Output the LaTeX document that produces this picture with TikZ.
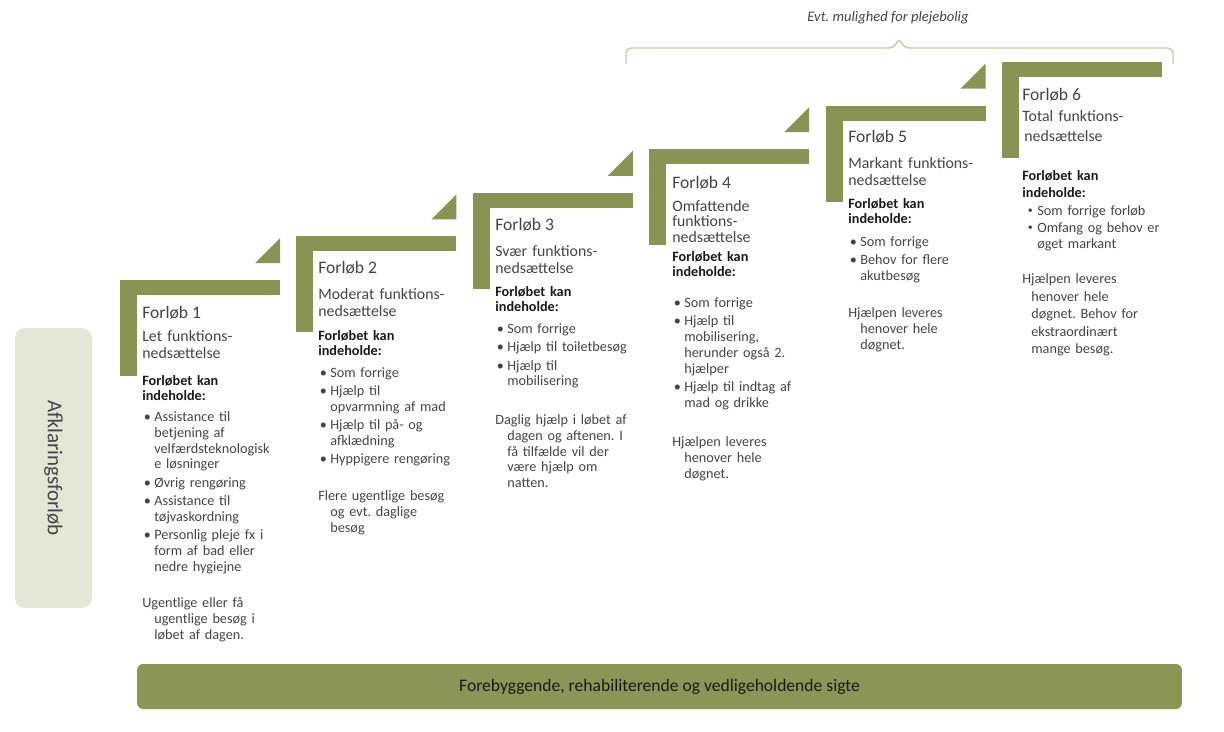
\documentclass[tikz,border=0pt]{standalone}
\usepackage{fontspec}
\setmainfont{Carlito}
\usetikzlibrary{positioning}
\frenchspacing

\definecolor{stepgreen}{RGB}{137,148,84}
\definecolor{barfill}{RGB}{139,150,86}
\definecolor{boxfill}{RGB}{228,231,214}
\definecolor{bracegrey}{RGB}{196,201,168}
\definecolor{txtgrey}{RGB}{68,68,68}
\definecolor{txtdark}{RGB}{25,25,25}

\newcommand{\blt}{\makebox[2.4mm][l]{\hspace{0.3mm}\textbullet}}
\newcommand{\sblt}{\makebox[3mm][l]{\hspace{1.1mm}\raisebox{.25ex}{\scalebox{.7}{\textbullet}}}}
\newcommand{\stepcont}{\hspace*{2.4mm}}
\newcommand{\notecont}{\hspace*{2.4mm}}

\tikzset{
  stepbar/.style={fill=stepgreen},
  steptitle/.style={anchor=base west, inner sep=0pt, text=txtgrey, font=\fontsize{10}{12}\selectfont},
  stepsub/.style={anchor=base west, inner sep=0pt, text=txtgrey, text width=3.5cm, align=left, font=\fontsize{9}{10}\selectfont},
  stephead/.style={anchor=base west, inner sep=0pt, text=txtdark, text width=3.5cm, align=left, font=\fontsize{8.1}{8.3}\selectfont\bfseries},
  stepbody/.style={anchor=base west, inner sep=0pt, text=txtgrey, text width=3.5cm, align=left, font=\fontsize{8.1}{9}\selectfont},
  leftbox/.style={fill=boxfill, rounded corners=2mm, rotate=-90, minimum width=5.6cm, minimum height=1.54cm, inner sep=0pt, text=txtgrey, font=\fontsize{12}{14}\selectfont},
  sigtebar/.style={fill=barfill, rounded corners=1.2mm, minimum width=20.9cm, minimum height=0.9cm, text=txtdark, font=\fontsize{10}{12}\selectfont},
  bracelabel/.style={inner sep=0pt, text=txtgrey, font=\fontsize{8.3}{10}\selectfont\itshape}
}

\begin{document}
\begin{tikzpicture}[x=0.02cm,y=-0.02cm]
  \useasboundingbox (0,0) rectangle (1224,731);

  % staircase
  \foreach \i in {1,...,6} {
    \pgfmathsetmacro{\X}{120+176.4*(\i-1)}
    \pgfmathsetmacro{\Y}{280-43.6*(\i-1)}
    \fill[stepbar] (\X,\Y) rectangle ++(160,15); %Draw tread
    \fill[stepbar] (\X,\Y) rectangle ++(17,96);  %Draw riser
    \ifnum\i<6
      \fill[stepbar] (\X+160,\Y-17) -- ++(-25,0) -- ++(25,-25) -- cycle; %Draw corner
    \fi
  }

  \node[leftbox] (afk) at (53.5,468) {Afklaringsforløb}; %Left box
  \node[sigtebar] (sigte) at (659.5,686.5) {Forebyggende, rehabiliterende og vedligeholdende sigte}; %Bottom bar

  % brace over the last steps
  \coordinate (bl) at (626,64);
  \coordinate (br) at (1173,64);
  \coordinate (bt) at (899,38);
  \draw[bracegrey, line width=0.8pt, rounded corners=1mm] (bl) |- (894,48) -- (bt) -- (904,48) -| (br);
  \node[bracelabel] (pleje) at (888,18) {Evt. mulighed for plejebolig};

  % Forløb 1
  \node[steptitle] (t1) at (142,318) {Forløb 1};
  \node[stepsub] (s1) at (142,341) {Let funktions-\\nedsættelse};
  \node[stephead] (h1) at (142,385.5) {Forløbet kan\\indeholde:};
  \node[stepbody] (l1) at (142,421.5) {\blt Assistance til\\\stepcont betjening af\\\stepcont velfærdsteknologisk\\\stepcont e løsninger\\[1.4pt]\blt Øvrig rengøring\\[1.4pt]\blt Assistance til\\\stepcont tøjvaskordning\\[1.4pt]\blt Personlig pleje fx i\\\stepcont form af bad eller\\\stepcont nedre hygiejne};
  \node[stepbody] (n1) at (142,607.5) {Ugentlige eller få\\\notecont ugentlige besøg i\\\notecont løbet af dagen.};

  % Forløb 2
  \node[steptitle] (t2) at (318,273) {Forløb 2};
  \node[stepsub] (s2) at (318,299) {Moderat funktions-\\nedsættelse};
  \node[stephead] (h2) at (318,340.5) {Forløbet kan\\indeholde:};
  \node[stepbody] (l2) at (318,377.5) {\blt Som forrige\\[1.4pt]\blt Hjælp til\\\stepcont opvarmning af mad\\[1.4pt]\blt Hjælp til på- og\\\stepcont afklædning\\[1.4pt]\blt Hyppigere rengøring};
  \node[stepbody] (n2) at (318,500.5) {Flere ugentlige besøg\\\notecont og evt. daglige\\\notecont besøg};

  % Forløb 3
  \node[steptitle] (t3) at (495,230) {Forløb 3};
  \node[stepsub] (s3) at (495,256) {Svær funktions-\\nedsættelse};
  \node[stephead] (h3) at (495,296.5) {Forløbet kan\\indeholde:};
  \node[stepbody] (l3) at (495,333.5) {\blt Som forrige\\[1.4pt]\blt Hjælp til toiletbesøg\\[1.4pt]\blt Hjælp til\\\stepcont mobilisering};
  \node[stepbody] (n3) at (495,424.5) {Daglig hjælp i løbet af\\\notecont dagen og aftenen. I\\\notecont få tilfælde vil der\\\notecont være hjælp om\\\notecont natten.};

  % Forløb 4
  \node[steptitle] (t4) at (672,188) {Forløb 4};
  \node[stepsub, font=\fontsize{9}{8.9}\selectfont] (s4) at (672,211) {Omfattende\\funktions-\\nedsættelse};
  \node[stephead] (h4) at (672,261.5) {Forløbet kan\\indeholde:};
  \node[stepbody] (l4) at (672,307.5) {\blt Som forrige\\[1.4pt]\blt Hjælp til\\\stepcont mobilisering,\\\stepcont herunder også 2.\\\stepcont hjælper\\[1.4pt]\blt Hjælp til indtag af\\\stepcont mad og drikke};
  \node[stepbody] (n4) at (672,446.5) {Hjælpen leveres\\\notecont henover hele\\\notecont døgnet.};

  % Forløb 5
  \node[steptitle] (t5) at (848,142) {Forløb 5};
  \node[stepsub] (s5) at (848,168) {Markant funktions-\\nedsættelse};
  \node[stephead] (h5) at (848,208.5) {Forløbet kan\\indeholde:};
  \node[stepbody] (l5) at (848,246.5) {\blt Som forrige\\[1.4pt]\blt Behov for flere\\\stepcont akutbesøg};
  \node[stepbody] (n5) at (848,317.5) {Hjælpen leveres\\\notecont henover hele\\\notecont døgnet.};

  % Forløb 6
  \node[steptitle] (t6) at (1022,100) {Forløb 6};
  \node[stepsub, font=\fontsize{9}{11.4}\selectfont] (s6) at (1022,121) {Total funktions-\\\hspace*{0.4mm}nedsættelse};
  \node[stephead, font=\fontsize{8.1}{9.8}\selectfont\bfseries] (h6) at (1022,180.5) {Forløbet kan\\indeholde:};
  \node[stepbody, font=\fontsize{8.1}{9.4}\selectfont] (l6) at (1022,215.5) {\sblt Som forrige forløb\\\sblt Omfang og behov er\\\hspace*{3mm}øget markant};
  \node[stepbody, font=\fontsize{8.1}{10}\selectfont] (n6) at (1022,283.5) {Hjælpen leveres\\\hspace*{1.8mm}henover hele\\\hspace*{1.8mm}døgnet. Behov for\\\hspace*{1.8mm}ekstraordinært\\\hspace*{1.8mm}mange besøg.};
\end{tikzpicture}
\end{document}
